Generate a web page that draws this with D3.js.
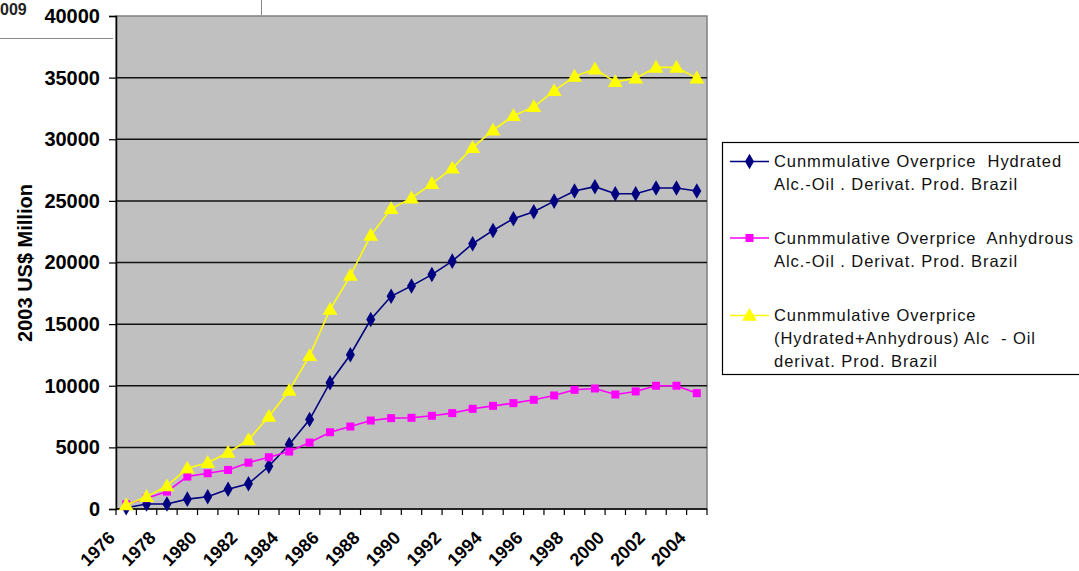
<!DOCTYPE html>
<html lang="en">
<head>
    <meta charset="UTF-8">
    <title>Cumulative Overprice</title>
    <script src="https://d3js.org/d3.v7.min.js"></script>
    <style>
        body {
            margin: 0;
            background-color: #fff;
            font-family: 'Liberation Sans', Arial, sans-serif;
        }
        .ylab text {
            font-size: 20px;
            font-weight: bold;
            fill: #000;
        }
        .legend text {
            font-size: 16.5px;
            letter-spacing: 0.95px;
            fill: #111;
        }
    </style>
</head>
<body>
    <svg width="1079" height="571"></svg>

    <script>
        // data
        const years = d3.range(1976, 2005);
        const xTickLabels = [1976, 1978, 1980, 1982, 1984, 1986, 1988, 1990, 1992, 1994, 1996, 1998, 2000, 2002, 2004];
        const yTicks = [0, 5000, 10000, 15000, 20000, 25000, 30000, 35000, 40000];

        const hydrated = [100, 400, 400, 800, 1000, 1600, 2050, 3470, 5230, 7260,
            10250, 12520, 15370, 17260, 18100, 19020, 20110, 21520, 22600, 23550,
            24120, 24980, 25800, 26150, 25580, 25580, 26040, 26040, 25800];
        const anhydrous = [380, 870, 1410, 2630, 2900, 3170, 3760, 4200, 4660, 5390,
            6230, 6690, 7180, 7370, 7400, 7560, 7780, 8130, 8370, 8590,
            8860, 9210, 9670, 9780, 9290, 9540, 10000, 10000, 9400];
        const total = [320, 1000, 1870, 3300, 3760, 4580, 5610, 7500, 9620, 12440,
            16180, 18940, 22200, 24360, 25220, 26400, 27640, 29320, 30730, 31900,
            32630, 33930, 35100, 35690, 34660, 34960, 35830, 35830, 34960];

        const seriesNames = [
            ["Cunmmulative Overprice  Hydrated", "Alc.-Oil . Derivat. Prod. Brazil"],
            ["Cunmmulative Overprice  Anhydrous", "Alc.-Oil . Derivat. Prod. Brazil"],
            ["Cunmmulative Overprice", "(Hydrated+Anhydrous) Alc  - Oil", "derivat. Prod. Brazil"]
        ];
        const seriesColors = ["#000080", "#ff00ff", "#ffff00"];
        const seriesMarkers = [d3.symbolDiamond, d3.symbolSquare, d3.symbolTriangle];
        const seriesValues = [hydrated, anhydrous, total];

        const svg = d3.select("svg");
        const pLeft = 116, pRight = 707, pTop = 16, pBottom = 509;

        const x = d3.scaleBand().domain(years).range([pLeft, pRight]).padding(0);
        const y = d3.scaleLinear().domain([0, 40000]).range([pBottom, pTop]);
        const cx = d => x(d) + x.bandwidth() / 2;

        // leftover bits of the page around the chart
        svg.append("line").attr("x1", 0).attr("x2", 113).attr("y1", 38.5).attr("y2", 38.5)
            .attr("stroke", "#888").attr("stroke-width", 1);
        svg.append("line").attr("x1", 261.5).attr("x2", 261.5).attr("y1", 0).attr("y2", 15)
            .attr("stroke", "#888").attr("stroke-width", 1);
        svg.append("text").attr("x", 0).attr("y", 15)
            .style("font-size", "16px").style("font-weight", "bold").style("fill", "#222")
            .text("009");

        // plot area
        svg.append("rect")
            .attr("x", pLeft).attr("y", pTop)
            .attr("width", pRight - pLeft).attr("height", pBottom - pTop)
            .attr("fill", "#c0c0c0").attr("stroke", "#808080").attr("stroke-width", 1.5);

        // gridlines
        svg.append("g")
            .selectAll("line")
            .data(yTicks.filter(v => v > 0 && v < 40000))
            .enter().append("line")
            .attr("x1", pLeft).attr("x2", pRight)
            .attr("y1", d => y(d)).attr("y2", d => y(d))
            .attr("stroke", "#111").attr("stroke-width", 1.5);

        // y axis
        const yAxis = svg.append("g")
            .attr("class", "ylab")
            .attr("transform", `translate(${pLeft},0)`)
            .call(d3.axisLeft(y).tickValues(yTicks).tickSize(7).tickPadding(9).tickFormat(d3.format("d")));
        yAxis.select(".domain").attr("stroke", "#000").attr("stroke-width", 1.5);
        yAxis.selectAll(".tick line").attr("stroke", "#000").attr("stroke-width", 1.2);
        yAxis.selectAll("text").style("font-family", "'Liberation Sans', Arial, sans-serif");

        svg.append("text")
            .attr("transform", `translate(32,263) rotate(-90)`)
            .attr("text-anchor", "middle")
            .style("font-size", "20px").style("font-weight", "bold")
            .text("2003 US$ Million");

        // x axis (category boundaries)
        svg.append("line").attr("x1", pLeft).attr("x2", pRight).attr("y1", pBottom).attr("y2", pBottom)
            .attr("stroke", "#000").attr("stroke-width", 1.5);
        svg.append("g")
            .selectAll("line")
            .data(years.map(d => x(d)).concat([x.range()[1]]))
            .enter().append("line")
            .attr("x1", d => d).attr("x2", d => d)
            .attr("y1", pBottom).attr("y2", pBottom + 6)
            .attr("stroke", "#000").attr("stroke-width", 1.2);

        svg.append("g")
            .selectAll("text")
            .data(xTickLabels)
            .enter().append("text")
            .attr("transform", d => `translate(${cx(d) - 10},${pBottom + 30}) rotate(-45)`)
            .attr("text-anchor", "end")
            .style("font-size", "18px").style("font-weight", "bold")
            .text(d => d);

        // series
        const line = d3.line().x((d, i) => cx(years[i])).y(d => y(d));
        const markerSizes = [70, 64, 95];

        seriesValues.forEach((vals, s) => {
            svg.append("path")
                .datum(vals)
                .attr("d", line)
                .attr("fill", "none")
                .attr("stroke", seriesColors[s])
                .attr("stroke-width", 1.6);
            svg.append("g")
                .selectAll("path")
                .data(vals)
                .enter().append("path")
                .attr("transform", (d, i) => `translate(${cx(years[i])},${y(d) + (s === 2 ? 1 : 0)})`)
                .attr("d", d3.symbol().type(seriesMarkers[s]).size(markerSizes[s]))
                .attr("fill", seriesColors[s]);
        });

        // legend
        const legend = svg.append("g").attr("class", "legend");
        legend.append("rect")
            .attr("x", 722.5).attr("y", 142.5)
            .attr("width", 380).attr("height", 232)
            .attr("fill", "#fff").attr("stroke", "#000").attr("stroke-width", 1.2);

        const entryY = [161.5, 238, 315.5];
        seriesNames.forEach((lines, s) => {
            const g = legend.append("g");
            g.append("line")
                .attr("x1", 730).attr("x2", 769)
                .attr("y1", entryY[s]).attr("y2", entryY[s])
                .attr("stroke", seriesColors[s]).attr("stroke-width", 1.6);
            g.append("path")
                .attr("transform", `translate(749.5,${entryY[s] + (s === 2 ? 1 : 0)})`)
                .attr("d", d3.symbol().type(seriesMarkers[s]).size(markerSizes[s]))
                .attr("fill", seriesColors[s]);
            lines.forEach((t, k) => {
                g.append("text")
                    .attr("x", 774)
                    .attr("y", entryY[s] + 5.5 + k * 23)
                    .attr("xml:space", "preserve")
                    .style("white-space", "pre")
                    .text(t);
            });
        });
    </script>
</body>
</html>
